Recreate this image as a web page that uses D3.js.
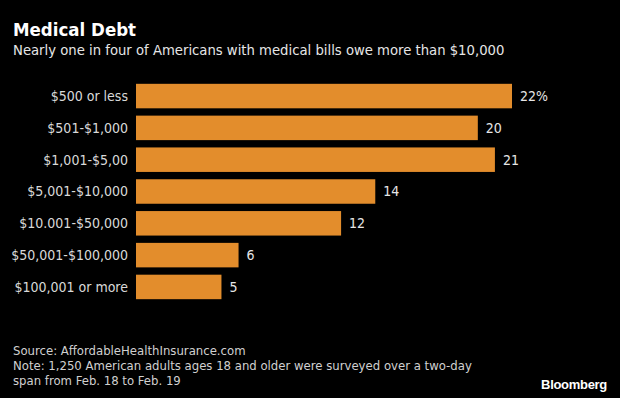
<!DOCTYPE html>
<html lang="en">
<head>
<meta charset="UTF-8">
<title>Medical Debt</title>
<script src="https://d3js.org/d3.v7.min.js"></script>
<style>
  body { margin: 0; background: #000; }
  svg { display: block; font-family: "DejaVu Sans Condensed", "DejaVu Sans", sans-serif; }
  .title { fill: #fff; font-weight: bold; font-size: 18.5px; }
  .subtitle { fill: #e6e6e6; font-size: 14.7px; }
  .cat { fill: #d9d9d9; font-size: 14px; }
  .val { fill: #e6e6e6; font-size: 14px; }
  .foot { fill: #d0d0d0; font-size: 13px; }
  .brand { fill: #fff; font-weight: bold; font-size: 13px; font-family: "Liberation Sans", Arial, sans-serif; letter-spacing: -0.3px; }
</style>
</head>
<body>
<svg id="chart" width="620" height="398"></svg>
<script>
const categories = ["$500 or less", "$501-$1,000", "$1,001-$5,00", "$5,001-$10,000",
                    "$10.001-$50,000", "$50,001-$100,000", "$100,001 or more"];
const values = [22, 20, 21, 14, 12, 6, 5];
const valueLabels = ["22%", "20", "21", "14", "12", "6", "5"];

const svg = d3.select("#chart");
const width = +svg.attr("width");

svg.append("rect").attr("width", width).attr("height", 398).attr("fill", "#000");

svg.append("text").attr("class", "title").attr("x", 13).attr("y", 36).text("Medical Debt");
svg.append("text").attr("class", "subtitle").attr("x", 13).attr("y", 55)
    .text("Nearly one in four of Americans with medical bills owe more than $10,000");

// bars start at 136, 22 units reach 512
const x = d3.scaleLinear().domain([0, 22]).range([136, 512]);
const y = d3.scaleBand().domain(categories).range([80, 303]).paddingInner(0.23).paddingOuter(0.12);

const g = svg.append("g");
g.selectAll("rect.bar").data(values)
    .join("rect")
    .attr("class", "bar")
    .attr("x", x(0))
    .attr("y", (d, i) => y(categories[i]))
    .attr("width", d => x(d) - x(0))
    .attr("height", y.bandwidth())
    .attr("fill", "#e38d2c");

g.selectAll("text.cat").data(categories)
    .join("text")
    .attr("class", "cat")
    .attr("x", x(0) - 8)
    .attr("y", d => y(d) + y.bandwidth() / 2)
    .attr("dy", "0.35em")
    .attr("text-anchor", "end")
    .text(d => d);

g.selectAll("text.val").data(values)
    .join("text")
    .attr("class", "val")
    .attr("x", d => x(d) + 8)
    .attr("y", (d, i) => y(categories[i]) + y.bandwidth() / 2)
    .attr("dy", "0.35em")
    .text((d, i) => valueLabels[i]);

const notes = ["Source: AffordableHealthInsurance.com",
               "Note: 1,250 American adults ages 18 and older were surveyed over a two-day",
               "span from Feb. 18 to Feb. 19"];
svg.selectAll("text.foot").data(notes)
    .join("text")
    .attr("class", "foot")
    .attr("x", 13)
    .attr("y", (d, i) => 355 + i * 15)
    .text(d => d);

svg.append("text").attr("class", "brand").attr("x", 607).attr("y", 389)
    .attr("text-anchor", "end").text("Bloomberg");
</script>
</body>
</html>
